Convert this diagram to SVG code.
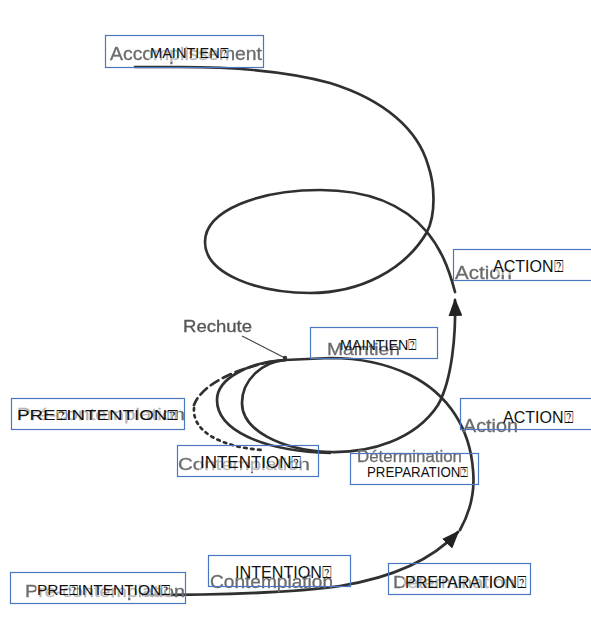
<svg xmlns="http://www.w3.org/2000/svg" width="591" height="638" viewBox="0 0 591 638">
<style>
.old{font-family:"Liberation Sans",Arial,sans-serif;fill:#6c6c6c;stroke:#6c6c6c;stroke-width:0.3;filter:url(#soft)}
.box{fill:none;stroke:#4a78c0;stroke-width:1.2}
.veil{fill:#ffffff;fill-opacity:0.5}
.lbl{font-family:"Liberation Sans","DejaVu Sans",sans-serif;fill:#111}
.ln{fill:none;stroke:#303030;stroke-width:2.7;stroke-linecap:round}
.thin{fill:none;stroke:#444;stroke-width:1.2}
</style>
<defs>
<filter id="soft" x="-5%" y="-20%" width="110%" height="140%"><feGaussianBlur stdDeviation="0.75"/></filter>
<marker id="arr" markerUnits="userSpaceOnUse" markerWidth="18" markerHeight="14" refX="16" refY="7" orient="auto"><path d="M0,0 L18,7 L0,14 Z" fill="#222"/></marker>
</defs>
<rect width="591" height="638" fill="#ffffff"/>

<g id="connectors">
<path class="ln" d="M135,67 L180,67 C240,67 290,72 330,83 C385,100 418,130 428,165 C435,185 436,214 427,232 C405,270 360,293 310,293 C260,293 205,275 205,242 C205,210 260,190 320,190 C360,190 400,200 427,232 C440,248 448,265 455,292"/>
<path class="ln" d="M330,452 C370,453 415,440 438,405 C452,380 456,335 455,300" marker-end="url(#arr)"/>
<path class="ln" d="M143,595 C220,595 300,592 340,586 C390,578 432,560 458,532" marker-end="url(#arr)"/>
<path class="ln" d="M460,530 C470,512 475,490 473,470 C470,430 450,395 410,375 C385,363 360,358 330,358 L285,360"/>
<path class="ln" d="M285,360 C262,362 242,380 242,403 C242,430 280,450 330,452"/>
<path class="ln" d="M285,360 C250,362 217,378 217,400 C217,430 262,451 330,453"/>
<path class="ln" d="M285,360 C252,363 203,380 194,405" stroke-dasharray="9 5" stroke-linecap="butt"/>
<path class="ln" d="M194,408 C192,432 222,447 262,450" stroke-dasharray="2.5 4.5"/>
<path class="thin" d="M242,336 L285,358"/>
<circle cx="285" cy="358" r="2.2" fill="#333"/>
</g>

<g id="rechute">
<text class="old" x="183" y="332" font-size="16" textLength="69" lengthAdjust="spacingAndGlyphs" style="fill:#555;stroke:#555">Rechute</text>
</g>

<g id="n-accomplissement">
<text class="old" x="110" y="60" font-size="18" textLength="152" lengthAdjust="spacingAndGlyphs">Accomplissement</text>
<rect class="veil" x="149" y="44" width="80" height="18"/>
<rect class="box" x="105.5" y="35.5" width="158" height="32"/>
<text class="lbl" x="150" y="58" font-size="14" textLength="78" lengthAdjust="spacingAndGlyphs">MAINTIEN⍰</text>
</g>

<g id="n-action-top">
<text class="old" x="455" y="279" font-size="18" textLength="57" lengthAdjust="spacingAndGlyphs">Action</text>
<rect class="veil" x="492" y="256" width="74" height="19"/>
<rect class="box" x="453.5" y="249.5" width="140" height="31"/>
<text class="lbl" x="493" y="272" font-size="17" textLength="70" lengthAdjust="spacingAndGlyphs">ACTION⍰</text>
</g>

<g id="n-maintien-mid">
<text class="old" x="327" y="355" font-size="17" textLength="73" lengthAdjust="spacingAndGlyphs">Maintien</text>
<rect class="box" x="310.5" y="327.5" width="127" height="31"/>
<text class="lbl" x="340" y="350" font-size="15" textLength="77" lengthAdjust="spacingAndGlyphs">MAINTIEN⍰</text>
</g>

<g id="n-precontemplation-mid">
<text class="old" x="17" y="420" font-size="17" textLength="168" lengthAdjust="spacingAndGlyphs">Pré-contemplation</text>
<rect class="veil" x="16" y="406" width="163" height="17"/>
<rect class="box" x="11.5" y="398.5" width="173" height="31"/>
<text class="lbl" x="17" y="420" font-size="14" textLength="161" lengthAdjust="spacingAndGlyphs">PRE⍰INTENTION⍰</text>
</g>

<g id="n-action-mid">
<text class="old" x="463" y="432" font-size="18" textLength="55" lengthAdjust="spacingAndGlyphs">Action</text>
<rect class="box" x="460.5" y="398.5" width="133" height="31"/>
<text class="lbl" x="503" y="423" font-size="17" textLength="70" lengthAdjust="spacingAndGlyphs">ACTION⍰</text>
</g>

<g id="n-contemplation-mid">
<text class="old" x="178" y="470" font-size="17" textLength="132" lengthAdjust="spacingAndGlyphs">Contemplation</text>
<rect class="veil" x="199" y="455" width="104" height="17"/>
<rect class="box" x="177.5" y="445.5" width="141" height="31"/>
<text class="lbl" x="200" y="468" font-size="16" textLength="102" lengthAdjust="spacingAndGlyphs">INTENTION⍰</text>
</g>

<g id="n-determination-mid">
<text class="old" x="357" y="462" font-size="16" textLength="105" lengthAdjust="spacingAndGlyphs">Détermination</text>
<rect class="box" x="350.5" y="453.5" width="128" height="31"/>
<text class="lbl" x="367" y="477" font-size="14" textLength="101" lengthAdjust="spacingAndGlyphs">PREPARATION⍰</text>
</g>

<g id="n-precontemplation-bottom">
<text class="old" x="25" y="597" font-size="17" textLength="160" lengthAdjust="spacingAndGlyphs">Pré-contemplation</text>
<rect class="veil" x="36" y="583" width="135" height="15"/>
<rect class="box" x="10.5" y="572.5" width="175" height="31"/>
<text class="lbl" x="37" y="595" font-size="14" textLength="133" lengthAdjust="spacingAndGlyphs">PRE⍰INTENTION⍰</text>
</g>

<g id="n-contemplation-bottom">
<text class="old" x="210" y="588" font-size="19" textLength="123" lengthAdjust="spacingAndGlyphs">Contemplation</text>
<rect class="box" x="208.5" y="555.5" width="142" height="31"/>
<text class="lbl" x="235" y="578" font-size="16" textLength="97" lengthAdjust="spacingAndGlyphs">INTENTION⍰</text>
</g>

<g id="n-determination-bottom">
<text class="old" x="393" y="588" font-size="16" textLength="122" lengthAdjust="spacingAndGlyphs">Détermination</text>
<rect class="veil" x="404" y="574" width="124" height="17"/>
<rect class="box" x="388.5" y="563.5" width="142" height="31"/>
<text class="lbl" x="405" y="588" font-size="16" textLength="122" lengthAdjust="spacingAndGlyphs">PREPARATION⍰</text>
</g>
</svg>
